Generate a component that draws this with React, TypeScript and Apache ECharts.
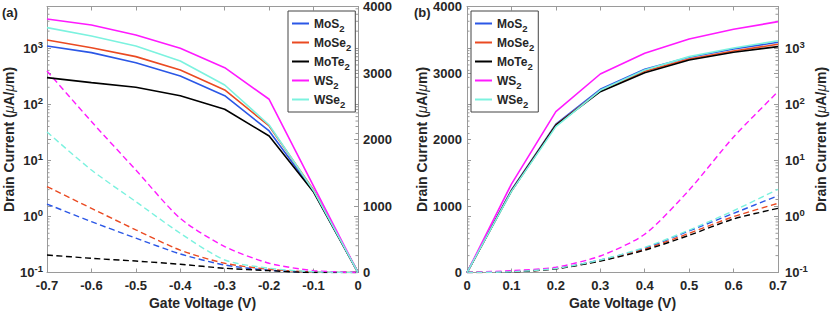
import React, { useEffect, useRef } from 'react';
import * as echarts from 'echarts';

// ---------- data ----------
const materials = ['MoS2', 'MoSe2', 'MoTe2', 'WS2', 'WSe2'];
const materialBase = ['MoS', 'MoSe', 'MoTe', 'WS', 'WSe'];
const colors = ['#2b57e6', '#ea4a22', '#000000', '#ff1aff', '#7cf2df'];

const gateA = [-0.7, -0.6, -0.5, -0.4, -0.3, -0.2, -0.1, 0];
const gateB = [0, 0.1, 0.2, 0.3, 0.4, 0.5, 0.6, 0.7];

// panel (a) solid lines, linear axis (right)
const linA_MoS2 = [3407, 3306, 3155, 2955, 2659, 2128, 1220, 0];
const linA_MoSe2 = [3497, 3381, 3246, 3046, 2745, 2203, 1240, 0];
const linA_MoTe2 = [2930, 2855, 2786, 2659, 2455, 2053, 1210, 0];
const linA_WS2 = [3813, 3722, 3572, 3372, 3080, 2605, 1300, 0];
const linA_WSe2 = [3682, 3557, 3407, 3181, 2820, 2218, 1230, 0];

// panel (a) dashed lines, log axis (left)
const logA_MoS2 = [1.66, 0.805, 0.41, 0.214, 0.136, 0.11, 0.101, 0.1];
const logA_MoSe2 = [3.4, 1.39, 0.575, 0.25, 0.146, 0.114, 0.102, 0.1];
const logA_MoTe2 = [0.205, 0.179, 0.16, 0.14, 0.119, 0.108, 0.1, 0.1];
const logA_WS2 = [390, 49, 6.7, 0.92, 0.29, 0.146, 0.108, 0.1];
const logA_WSe2 = [32, 6.7, 1.83, 0.5, 0.167, 0.119, 0.103, 0.1];

// panel (b) solid lines, linear axis (left)
const linB_MoS2 = [0, 1240, 2230, 2755, 3056, 3236, 3361, 3462];
const linB_MoSe2 = [0, 1230, 2220, 2730, 3025, 3210, 3330, 3432];
const linB_MoTe2 = [0, 1225, 2215, 2719, 3005, 3196, 3312, 3396];
const linB_WS2 = [0, 1330, 2419, 2985, 3297, 3512, 3657, 3772];
const linB_WSe2 = [0, 1220, 2193, 2740, 3045, 3246, 3376, 3486];

// panel (b) dashed lines, log axis (right)
const logB_MoS2 = [0.1, 0.103, 0.118, 0.167, 0.27, 0.55, 1.13, 2.34];
const logB_MoSe2 = [0.1, 0.102, 0.117, 0.162, 0.26, 0.5, 0.99, 1.71];
const logB_MoTe2 = [0.1, 0.102, 0.116, 0.16, 0.25, 0.46, 0.9, 1.39];
const logB_WS2 = [0.1, 0.108, 0.124, 0.197, 0.48, 2.95, 26, 167];
const logB_WSe2 = [0.1, 0.103, 0.118, 0.167, 0.28, 0.57, 1.26, 3.04];

const linA = [linA_MoS2, linA_MoSe2, linA_MoTe2, linA_WS2, linA_WSe2];
const logA = [logA_MoS2, logA_MoSe2, logA_MoTe2, logA_WS2, logA_WSe2];
const linB = [linB_MoS2, linB_MoSe2, linB_MoTe2, linB_WS2, linB_WSe2];
const logB = [logB_MoS2, logB_MoSe2, logB_MoTe2, logB_WS2, logB_WSe2];

const logMin = 0.1;
const logMax = 5500;
const linMin = 0;
const linMax = 4000;
const linInterval = 1000;

// ---------- styling ----------
const FONT = 'Liberation Sans, Arial, Helvetica, sans-serif';
const TEXT = '#262626';
const AXIS = '#9a9a9a';

const yName = '{n|Drain Current (}{i|μ}{n|A/}{i|μ}{n|m)}';
const nameStyle = {
  rich: {
    n: { fontSize: 14, fontWeight: 'bold', color: TEXT, fontFamily: FONT },
    i: { fontSize: 14, fontStyle: 'italic', color: TEXT, fontFamily: FONT },
  },
};

const logLabel = {
  formatter: (v: number) => {
    const e = Math.round(Math.log10(v));
    return `{b|10}{s|${e}}`;
  },
  showMaxLabel: false,
  rich: {
    b: { fontSize: 13, fontWeight: 'bold', color: TEXT, fontFamily: FONT },
    s: { fontSize: 9.5, fontWeight: 'bold', color: TEXT, fontFamily: FONT, padding: [0, 0, 8, 0] },
  },
};

const linLabel = {
  fontSize: 13,
  fontWeight: 'bold',
  color: TEXT,
  fontFamily: FONT,
};

const axisLine = { show: true, onZero: false, lineStyle: { color: AXIS, width: 1 } };
const tick = { show: true, inside: true, length: 4, lineStyle: { color: AXIS, width: 1 } };

function minorLogValues(): number[] {
  const out: number[] = [];
  for (let e = -1; e <= 3; e++) {
    for (let m = 2; m <= 9; m++) {
      const v = m * Math.pow(10, e);
      if (v < logMax) out.push(v);
    }
  }
  return out;
}

const minorTickRender = (params: any, api: any) => {
  const p = api.coord([api.value(0), api.value(1)]);
  const dir = api.value(2) === 0 ? 1 : -1;
  return {
    type: 'line',
    shape: { x1: p[0], y1: p[1], x2: p[0] + dir * 2.5, y2: p[1] },
    style: { stroke: AXIS, lineWidth: 1 },
    silent: true,
  };
};

function buildOption() {
  const grids = [
    { left: 47, top: 6.5, width: 311, height: 266 },
    { left: 467, top: 6.5, width: 311, height: 266 },
  ];

  const xLabelFmt = (v: number) => String(Math.round(v * 10) / 10);
  const xBase = (gridIndex: number, min: number, max: number) => ({
    type: 'value',
    gridIndex,
    min,
    max,
    interval: 0.1,
    axisLine,
    axisTick: tick,
    splitLine: { show: false },
  });

  const xAxis = [
    {
      ...xBase(0, -0.7, 0),
      position: 'bottom',
      axisLabel: { ...linLabel, margin: 6, formatter: xLabelFmt },
      name: 'Gate Voltage (V)',
      nameLocation: 'middle',
      nameGap: 23,
      nameTextStyle: { fontSize: 14, fontWeight: 'bold', color: TEXT, fontFamily: FONT },
    },
    { ...xBase(0, -0.7, 0), position: 'top', axisLabel: { show: false } },
    {
      ...xBase(1, 0, 0.7),
      position: 'bottom',
      axisLabel: { ...linLabel, margin: 6, formatter: xLabelFmt },
      name: 'Gate Voltage (V)',
      nameLocation: 'middle',
      nameGap: 23,
      nameTextStyle: { fontSize: 14, fontWeight: 'bold', color: TEXT, fontFamily: FONT },
    },
    { ...xBase(1, 0, 0.7), position: 'top', axisLabel: { show: false } },
  ];

  const logAxis = (gridIndex: number, position: string, labels: boolean, extra: any = {}) => ({
    type: 'log',
    logBase: 10,
    gridIndex,
    position,
    min: logMin,
    max: logMax,
    axisLine,
    axisTick: tick,
    splitLine: { show: false },
    axisLabel: labels ? { ...logLabel, margin: position === 'left' ? 4 : 7 } : { show: false },
    ...extra,
  });
  const linAxis = (gridIndex: number, position: string, labels: boolean, extra: any = {}) => ({
    type: 'value',
    gridIndex,
    position,
    min: linMin,
    max: linMax,
    interval: linInterval,
    axisLine,
    axisTick: tick,
    splitLine: { show: false },
    axisLabel: labels ? { ...linLabel, margin: 5, formatter: (v: number) => String(v) } : { show: false },
    ...extra,
  });

  const nameCfg = (gap: number) => ({
    name: yName,
    nameLocation: 'middle',
    nameRotate: 90,
    nameGap: gap,
    nameTextStyle: nameStyle,
  });

  const yAxis = [
    logAxis(0, 'left', true, nameCfg(28)), // 0
    linAxis(0, 'right', true), // 1
    linAxis(1, 'left', true, nameCfg(36)), // 2
    logAxis(1, 'right', true, nameCfg(36)), // 3
    logAxis(0, 'right', false), // 4 mirror
    linAxis(0, 'left', false), // 5 mirror
    linAxis(1, 'right', false), // 6 mirror
    logAxis(1, 'left', false), // 7 mirror
  ];

  const series: any[] = [];
  // dashed (log) first
  materials.forEach((m, i) => {
    series.push({
      name: `${m} log a`,
      type: 'line',
      xAxisIndex: 0,
      yAxisIndex: 0,
      data: gateA.map((x, j) => [x, logA[i][j]]),
      showSymbol: false,
      symbol: 'none',
      smooth: 0.25,
      lineStyle: { color: colors[i], width: 1.4, type: [6, 3.5] },
      itemStyle: { color: colors[i] },
      z: 2,
    });
    series.push({
      name: `${m} log b`,
      type: 'line',
      xAxisIndex: 2,
      yAxisIndex: 3,
      data: gateB.map((x, j) => [x, logB[i][j]]),
      showSymbol: false,
      symbol: 'none',
      smooth: 0.25,
      lineStyle: { color: colors[i], width: 1.4, type: [6, 3.5] },
      itemStyle: { color: colors[i] },
      z: 2,
    });
  });
  materials.forEach((m, i) => {
    series.push({
      name: m,
      type: 'line',
      xAxisIndex: 0,
      yAxisIndex: 1,
      data: gateA.map((x, j) => [x, linA[i][j]]),
      showSymbol: false,
      symbol: 'none',
      lineStyle: { color: colors[i], width: 1.6 },
      itemStyle: { color: colors[i] },
      z: 3,
    });
  });
  materials.forEach((m, i) => {
    series.push({
      name: m,
      type: 'line',
      xAxisIndex: 2,
      yAxisIndex: 2,
      data: gateB.map((x, j) => [x, linB[i][j]]),
      showSymbol: false,
      symbol: 'none',
      lineStyle: { color: colors[i], width: 1.6 },
      itemStyle: { color: colors[i] },
      z: 3,
    });
  });

  // log-axis minor ticks on both edges of each panel
  const minors = minorLogValues();
  series.push({
    name: 'minor ticks a',
    type: 'custom',
    xAxisIndex: 0,
    yAxisIndex: 0,
    silent: true,
    clip: false,
    renderItem: minorTickRender,
    data: [...minors.map((v) => [-0.7, v, 0]), ...minors.map((v) => [0, v, 1])],
    z: 1,
  });
  series.push({
    name: 'minor ticks b',
    type: 'custom',
    xAxisIndex: 2,
    yAxisIndex: 3,
    silent: true,
    clip: false,
    renderItem: minorTickRender,
    data: [...minors.map((v) => [0, v, 0]), ...minors.map((v) => [0.7, v, 1])],
    z: 1,
  });

  const legendCommon = {
    orient: 'vertical',
    data: materials,
    icon: 'rect',
    itemWidth: 17,
    itemHeight: 2,
    itemGap: 0,
    padding: [3, 4, 3, 4],
    borderColor: '#444',
    borderWidth: 1,
    borderRadius: 0,
    backgroundColor: '#ffffff',
    selectedMode: false,
    formatter: (name: string) => {
      const i = materials.indexOf(name);
      return `{b|${materialBase[i]}}{s|2}`;
    },
    textStyle: {
      fontFamily: FONT,
      rich: {
        b: { fontSize: 12, fontWeight: 'bold', color: TEXT, fontFamily: FONT, lineHeight: 19 },
        s: { fontSize: 9.5, fontWeight: 'bold', color: TEXT, fontFamily: FONT, lineHeight: 10, padding: [9, 0, 0, 0] },
      },
    },
  };

  return {
    animation: false,
    backgroundColor: '#ffffff',
    textStyle: { fontFamily: FONT },
    grid: grids,
    xAxis,
    yAxis,
    legend: [
      { ...legendCommon, left: 288, top: 11 },
      { ...legendCommon, left: 471, top: 11 },
    ],
    graphic: [
      {
        type: 'text',
        left: 2,
        top: 6,
        style: { text: '(a)', font: `bold 13px ${FONT}`, fill: TEXT },
      },
      {
        type: 'text',
        left: 414,
        top: 6,
        style: { text: '(b)', font: `bold 13px ${FONT}`, fill: TEXT },
      },
    ],
    series,
  };
}

export default function App() {
  const ref = useRef<HTMLDivElement>(null);
  useEffect(() => {
    if (!ref.current) return;
    const chart = echarts.init(ref.current, null, { renderer: 'svg' });
    chart.setOption(buildOption() as any);
    return () => chart.dispose();
  }, []);
  return (
    <div
      ref={ref}
      style={{ position: 'absolute', left: 0, top: 0, width: 831, height: 316, background: '#fff' }}
    />
  );
}
